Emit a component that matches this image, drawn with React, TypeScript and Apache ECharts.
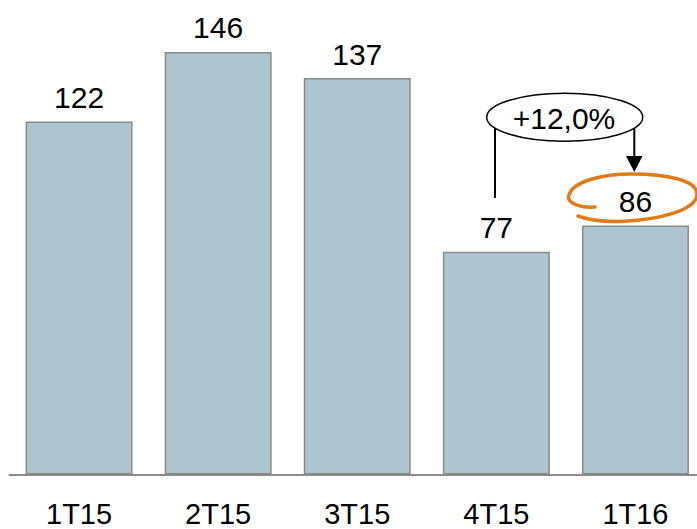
import React, { useEffect, useRef } from "react";
import * as echarts from "echarts";

const categories = ["1T15", "2T15", "3T15", "4T15", "1T16"];
const values = [122, 146, 137, 77, 86];
const growthLabel = "+12,0%";

const FONT = "'Liberation Sans', Arial, sans-serif";

const loopPath =
  "M595,207 C580,208 566,203 569,195 C573,181 603,174 632,174 C666,174 697,180 697,194 C697,210 660,220 620,221.5 C600,222 586,219 578,216";

let registered = false;
function ensureShape() {
  if (registered) return;
  echarts.graphic.registerShape("loop", echarts.graphic.extendPath(loopPath, {}) as any);
  registered = true;
}

export default function App() {
  const ref = useRef<HTMLDivElement>(null);
  useEffect(() => {
    if (!ref.current) return;
    ensureShape();
    const chart = echarts.init(ref.current, undefined, { renderer: "svg" });
    chart.setOption({
      animation: false,
      backgroundColor: "#ffffff",
      grid: {
        left: 9.5,
        width: 695.5,
        top: 40.4,
        height: 434.1,
        containLabel: false,
        outerBoundsMode: "none",
      },
      xAxis: {
        type: "category",
        data: categories,
        axisTick: { show: false },
        axisLine: { lineStyle: { color: "#8c8c8c", width: 2 } },
        axisLabel: {
          color: "#000",
          fontSize: 29,
          lineHeight: 26,
          fontFamily: FONT,
          margin: 26.5,
        },
      },
      yAxis: { type: "value", min: 0, max: 150, show: false, splitLine: { show: false } },
      series: [
        {
          type: "bar",
          data: values,
          barWidth: 107,
          itemStyle: { color: "#adc5ce", borderColor: "#8a8a8a", borderWidth: 1.5 },
          label: {
            show: true,
            position: "top",
            distance: 9,
            color: "#000",
            fontSize: 30,
            fontFamily: FONT,
          },
        },
      ],
      graphic: [
        {
          type: "line",
          z: 10,
          shape: { x1: 495, y1: 117, x2: 495, y2: 198 },
          style: { stroke: "#000", lineWidth: 2 },
        },
        {
          type: "line",
          z: 10,
          shape: { x1: 634.3, y1: 117, x2: 634.3, y2: 158 },
          style: { stroke: "#000", lineWidth: 2 },
        },
        {
          type: "polygon",
          z: 10,
          shape: { points: [[626, 156], [642.5, 156], [634.3, 172]] },
          style: { fill: "#000" },
        },
        {
          type: "ellipse",
          z: 11,
          shape: { cx: 564.7, cy: 117.2, rx: 78, ry: 24 },
          style: { fill: "#fff", stroke: "#000", lineWidth: 1.5 },
        },
        {
          type: "text",
          z: 12,
          x: 564,
          y: 118,
          style: {
            text: growthLabel,
            align: "center",
            verticalAlign: "middle",
            fontSize: 30,
            fontFamily: FONT,
            fill: "#000",
          },
        },
        {
          type: "loop",
          z: 12,
          x: 0,
          y: 0,
          style: { fill: "none", stroke: "#e07b1a", lineWidth: 3.5, lineCap: "round" },
        },
      ],
    });
    return () => chart.dispose();
  }, []);
  return (
    <div
      ref={ref}
      style={{ position: "fixed", left: 0, top: 0, width: 697, height: 529, background: "#fff" }}
    />
  );
}
